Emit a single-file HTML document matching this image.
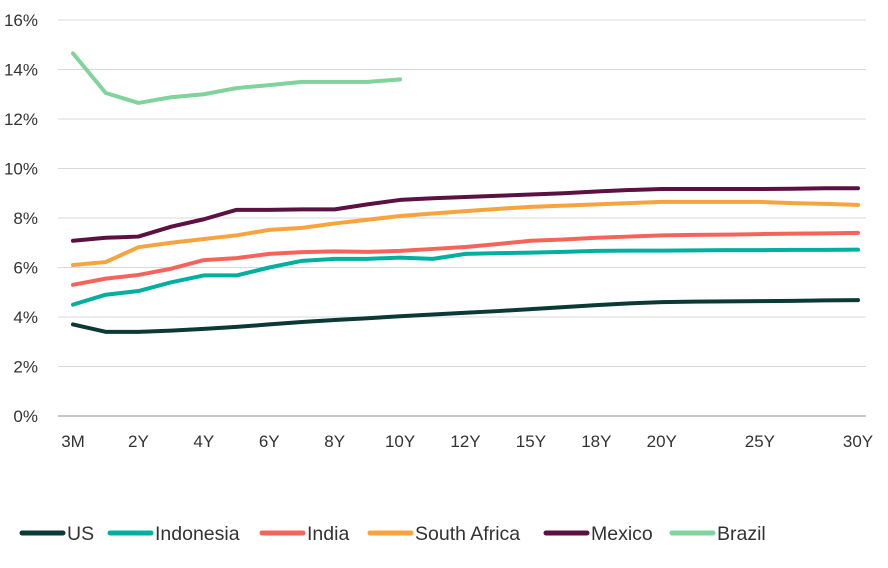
<!DOCTYPE html>
<html><head><meta charset="utf-8"><style>
body{margin:0;background:#fff;}
svg text{font-family:"Liberation Sans",sans-serif;fill:#333;}
</style></head><body>
<svg id="chart" width="888" height="563"></svg>
<script>
const categories=["3M","1Y","2Y","3Y","4Y","5Y","6Y","7Y","8Y","9Y","10Y","11Y","12Y","13Y","15Y","16Y","18Y","19Y","20Y","21Y","22Y","25Y","26Y","28Y","30Y"];
const tickLabels=["3M","","2Y","","4Y","","6Y","","8Y","","10Y","","12Y","","15Y","","18Y","","20Y","","","25Y","","","30Y"];
const yTicks=[0,2,4,6,8,10,12,14,16];
const seriesNames=["US","Indonesia","India","South Africa","Mexico","Brazil"];
const seriesColors=["#0b3a36","#00b09e","#f5645a","#f7a43f","#5b1142","#7fd39b"];
const us=[3.7,3.4,3.4,3.45,3.52,3.6,3.7,3.8,3.88,3.95,4.03,4.1,4.17,4.24,4.32,4.4,4.48,4.55,4.6,4.62,4.63,4.64,4.65,4.67,4.68];
const indonesia=[4.5,4.9,5.05,5.4,5.68,5.68,6.0,6.27,6.35,6.35,6.4,6.35,6.55,6.58,6.6,6.63,6.67,6.68,6.68,6.69,6.7,6.7,6.71,6.71,6.72];
const india=[5.3,5.55,5.7,5.95,6.3,6.38,6.55,6.62,6.65,6.63,6.67,6.75,6.83,6.95,7.08,7.13,7.2,7.25,7.3,7.32,7.33,7.35,7.37,7.38,7.4];
const southAfrica=[6.1,6.22,6.82,7.0,7.15,7.3,7.52,7.6,7.78,7.93,8.08,8.18,8.28,8.37,8.45,8.5,8.55,8.6,8.65,8.65,8.65,8.65,8.6,8.57,8.53];
const mexico=[7.08,7.2,7.25,7.65,7.95,8.33,8.33,8.35,8.35,8.55,8.73,8.8,8.85,8.9,8.95,9.0,9.07,9.13,9.17,9.17,9.17,9.17,9.18,9.2,9.2];
const brazil=[14.65,13.05,12.65,12.88,13.0,13.25,13.37,13.5,13.5,13.5,13.6];
const allSeries=[us,indonesia,india,southAfrica,mexico,brazil];

const svg=document.getElementById('chart');
const NS='http://www.w3.org/2000/svg';
const x=i=>73+i*(858-73)/(categories.length-1);
const y=v=>416-v*(416-20)/16;
function mk(t,a){const e=document.createElementNS(NS,t);for(const k in a)e.setAttribute(k,a[k]);svg.appendChild(e);return e;}
yTicks.forEach(v=>{
  const l=mk('line',{x1:58,x2:866,y1:y(v),y2:y(v),stroke:v===0?'#888':'#d9d9d9','stroke-width':1});
  
  
  const t=mk('text',{x:38,y:y(v)+6,'text-anchor':'end','font-size':17});
  t.textContent=v+'%';
  
  
});
tickLabels.forEach((s,i)=>{
  if(!s)return;
  const t=mk('text',{x:x(i),y:447,'text-anchor':'middle','font-size':17});
  t.textContent=s;
  
  
});
allSeries.forEach((d,si)=>{
  const p=mk('polyline',{points:d.map((v,i)=>x(i)+','+y(v)).join(' '),fill:'none',stroke:seriesColors[si],'stroke-width':4,'stroke-linejoin':'round','stroke-linecap':'round'});
  
  
});
const legX=[22,110,262,370,546,672];
seriesNames.forEach((n,i)=>{
  const l=mk('line',{x1:legX[i],x2:legX[i]+41,y1:533,y2:533,stroke:seriesColors[i],'stroke-width':5,'stroke-linecap':'round'});
  
  
  const t=mk('text',{x:legX[i]+45,y:540,'font-size':19.5});
  t.textContent=n;
  
  
});
</script>
</body></html>
